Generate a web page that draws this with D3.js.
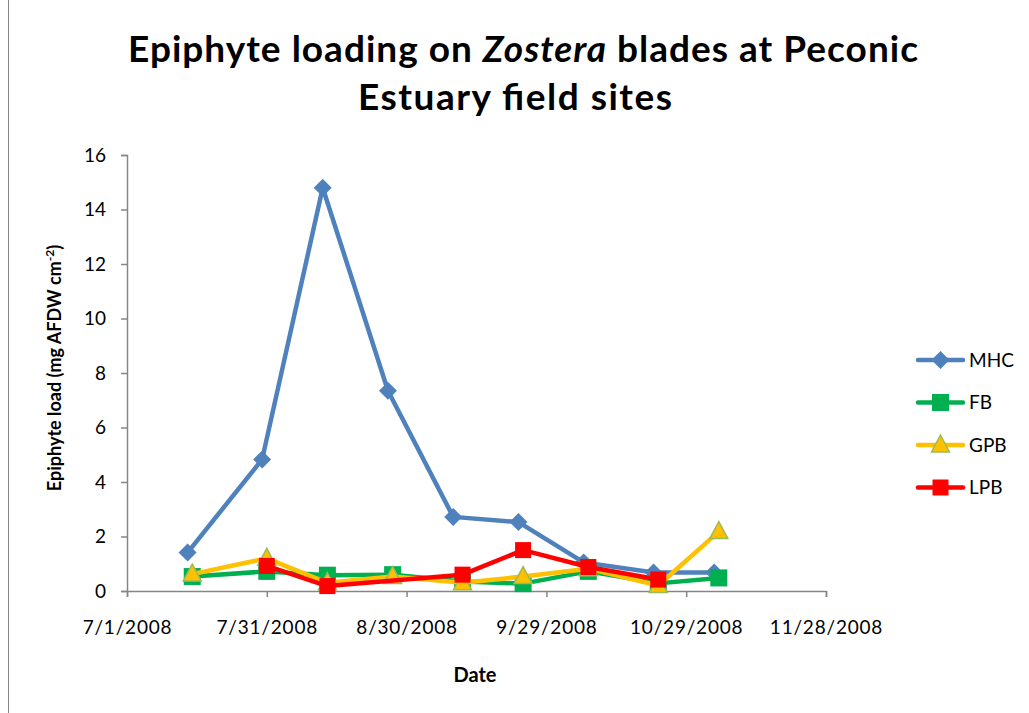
<!DOCTYPE html>
<html>
<head>
<meta charset="utf-8">
<script src="https://cdn.jsdelivr.net/npm/d3@7"></script>
<style>
  body { margin: 0; background: #fff; }
  svg text { font-family: Lato, "Open Sans", sans-serif; fill: #000; }
</style>
</head>
<body>
<div id="chart"></div>
<script>
// sampling dates and loads per site
const mhcDates = ["7/14/2008", "7/30/2008", "8/12/2008", "8/26/2008", "9/9/2008", "9/23/2008", "10/7/2008", "10/22/2008", "11/4/2008"]
const mhcValues = [1.41, 4.83, 14.8, 7.35, 2.72, 2.53, 1.05, 0.68, 0.68]

const fbDates = ["7/15/2008", "7/31/2008", "8/13/2008", "8/27/2008", "9/11/2008", "9/24/2008", "10/8/2008", "10/23/2008", "11/5/2008"]
const fbValues = [0.53, 0.72, 0.58, 0.6, 0.35, 0.27, 0.72, 0.28, 0.48]

const gpbDates = ["7/15/2008", "7/31/2008", "8/13/2008", "8/27/2008", "9/11/2008", "9/24/2008", "10/8/2008", "10/23/2008", "11/5/2008"]
const gpbValues = [0.62, 1.2, 0.3, 0.53, 0.3, 0.53, 0.82, 0.2, 2.18]

const lpbDates = ["7/31/2008", "8/13/2008", "9/11/2008", "9/24/2008", "10/8/2008", "10/23/2008"]
const lpbValues = [0.92, 0.18, 0.6, 1.5, 0.88, 0.42]

const xTicks = ["7/1/2008", "7/31/2008", "8/30/2008", "9/29/2008", "10/29/2008", "11/28/2008"]
const yTicks = [0, 2, 4, 6, 8, 10, 12, 14, 16]

const parse = d3.timeParse("%m/%d/%Y")
const fmt = d3.timeFormat("%-m/%-d/%Y")

const series = [
    {name: "MHC", color: "#4F81BD", marker: "diamond", dates: mhcDates, values: mhcValues},
    {name: "FB", color: "#00B050", marker: "square", dates: fbDates, values: fbValues},
    {name: "GPB", color: "#FFC000", marker: "triangle", dates: gpbDates, values: gpbValues},
    {name: "LPB", color: "#FF0000", marker: "redsquare", dates: lpbDates, values: lpbValues},
].map(s => ({...s, points: s.dates.map((d, i) => ({date: parse(d), value: s.values[i]}))}))

const width = 1029, height = 713
const svg = d3.select("#chart").append("svg")
    .attr("width", width)
    .attr("height", height)

// chart frame (cut off by the screenshot)
svg.append("rect")
    .attr("x", 8.5).attr("y", -20)
    .attr("width", width + 40).attr("height", height + 40)
    .attr("fill", "none")
    .attr("stroke", "#868686")

const x = d3.scaleTime()
    .domain([parse(xTicks[0]), parse(xTicks[xTicks.length - 1])])
    .range([127, 826])
const y = d3.scaleLinear()
    .domain([0, 16])
    .range([591, 155])

const axisColor = "#868686"

// axes
const yAxis = svg.append("g")
    .attr("transform", "translate(127,0)")
    .call(d3.axisLeft(y).tickValues(yTicks).tickSize(6).tickPadding(15))
const xAxis = svg.append("g")
    .attr("transform", "translate(0,591)")
    .call(d3.axisBottom(x).tickValues(xTicks.map(parse)).tickFormat(fmt).tickSize(6).tickPadding(24))

;[xAxis, yAxis].forEach(g => {
    g.select(".domain").attr("stroke", axisColor).attr("stroke-width", 1.5)
    g.selectAll(".tick line").attr("stroke", axisColor).attr("stroke-width", 1.5)
    g.selectAll(".tick text")
        .style("font-family", "Lato, 'Open Sans', sans-serif")
        .style("font-size", "19px")
        .attr("fill", "#000")
})
xAxis.selectAll(".tick text").style("letter-spacing", "0.8px")

// lines
const line = d3.line().x(d => x(d.date)).y(d => y(d.value))

const drawMarker = (g, kind, color) => {
    if (kind === "diamond") {
        g.append("path").attr("d", "M0,-9L9,0L0,9L-9,0Z").attr("fill", color)
    } else if (kind === "square") {
        g.append("rect").attr("x", -8.5).attr("y", -8.5).attr("width", 17).attr("height", 17).attr("fill", color)
    } else if (kind === "triangle") {
        g.append("path").attr("d", "M0,-10L9,7L-9,7Z").attr("fill", color)
            .attr("stroke", "#9BBB59").attr("stroke-width", 1.5)
    } else {
        g.append("rect").attr("x", -8).attr("y", -8).attr("width", 16).attr("height", 16).attr("fill", color)
    }
}

series.forEach(s => {
    const g = svg.append("g")
    g.append("path")
        .datum(s.points)
        .attr("d", line)
        .attr("fill", "none")
        .attr("stroke", s.color)
        .attr("stroke-width", 4.5)
        .attr("stroke-linejoin", "round")
    g.selectAll("g.pt")
        .data(s.points)
        .enter().append("g")
        .attr("class", "pt")
        .attr("transform", d => `translate(${x(d.date)},${y(d.value)})`)
        .each(function () { drawMarker(d3.select(this), s.marker, s.color) })
})

// legend
const legend = svg.append("g")
series.forEach((s, i) => {
    const ly = 360 + i * 42.5
    legend.append("line")
        .attr("x1", 918).attr("x2", 963)
        .attr("y1", ly).attr("y2", ly)
        .attr("stroke", s.color)
        .attr("stroke-width", 4.5)
        .attr("stroke-linecap", "round")
    const mg = legend.append("g").attr("transform", `translate(940.5,${ly})`)
    drawMarker(mg, s.marker, s.color)
    legend.append("text")
        .attr("x", 969).attr("y", ly)
        .attr("dy", "0.36em")
        .style("font-size", "19px")
        .text(s.name)
})

// title
const title = svg.append("text")
    .attr("x", 523).attr("y", 62)
    .attr("text-anchor", "middle")
    .attr("textLength", 790)
    .attr("lengthAdjust", "spacing")
    .style("font-size", "37px")
    .style("font-weight", "bold")
title.append("tspan").text("Epiphyte loading on ")
title.append("tspan").style("font-style", "italic").text("Zostera")
title.append("tspan").text(" blades at Peconic")
svg.append("text")
    .attr("x", 515).attr("y", 110)
    .attr("text-anchor", "middle")
    .attr("textLength", 314)
    .attr("lengthAdjust", "spacing")
    .style("font-size", "37px")
    .style("font-weight", "bold")
    .text("Estuary field sites")

// axis titles
const yTitle = svg.append("text")
    .attr("transform", "translate(61,368) rotate(-90)")
    .attr("text-anchor", "middle")
    .style("font-size", "18px")
    .style("font-weight", "bold")
yTitle.append("tspan").text("Epiphyte load (mg AFDW cm")
yTitle.append("tspan").attr("dy", -7).style("font-size", "12px").text("-2")
yTitle.append("tspan").attr("dy", 7).text(")")

svg.append("text")
    .attr("x", 475).attr("y", 682)
    .attr("text-anchor", "middle")
    .style("font-size", "20px")
    .style("font-weight", "bold")
    .text("Date")
</script>
</body>
</html>
